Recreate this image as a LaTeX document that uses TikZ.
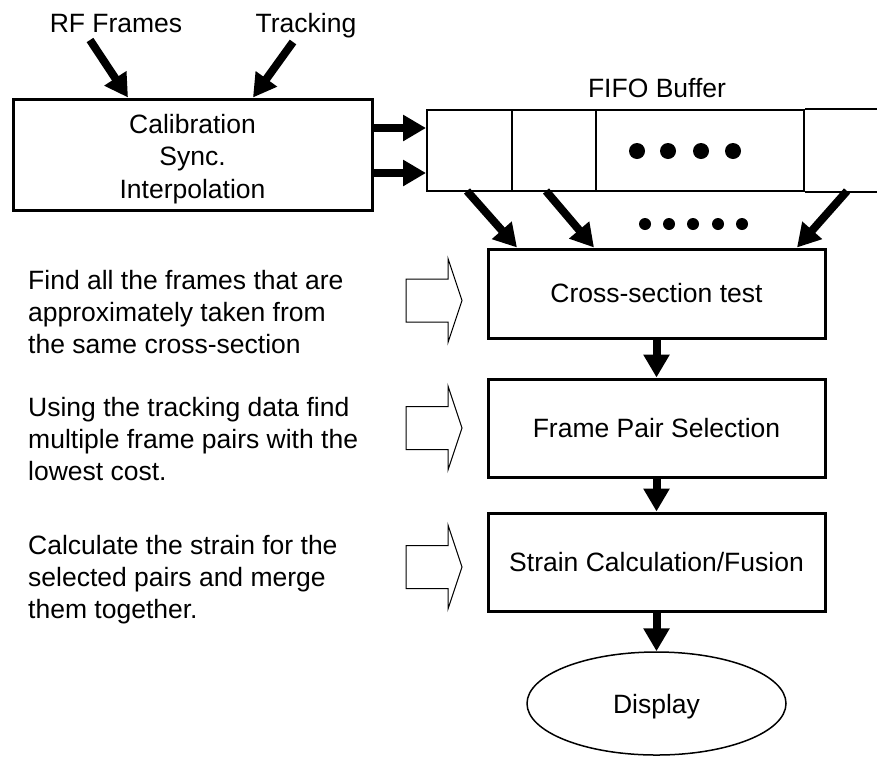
\documentclass[tikz,border=0pt]{standalone}
\usepackage{fontspec}
\setmainfont{Liberation Sans}
\usetikzlibrary{arrows.meta,shapes.geometric}
\tikzset{
  hollowarrow/.pic={\draw[line width=1pt] (-28,-21.5) -- (14,-21.5) -- (14,-42) -- (28,0) -- (14,42) -- (14,21.5) -- (-28,21.5) -- cycle;}
}
\begin{document}
\begin{tikzpicture}[x=1pt,y=-1pt,
  every node/.style={font=\fontsize{26.5}{32.5}\selectfont},
  procbox/.style={draw, line width=3pt, minimum width=337pt, minimum height=98pt, inner sep=0pt},
  fatarrow/.style={line width=8pt, -{Triangle[width=25pt,length=23pt]}},
  cellbox/.style={draw, line width=2pt, inner sep=0pt, minimum height=81pt},
  label/.style={anchor=base, inner sep=0pt},
  desc/.style={anchor=base west, align=left, inner sep=0pt, font=\fontsize{26.5}{32}\selectfont},
]
\useasboundingbox (0,0) rectangle (877,756);

% top block
\node[procbox, minimum width=359pt, minimum height=111pt] (calib) at (192.5,154.5) {};
\node[label, align=center] (calibtxt) at (192.5,198) {Calibration\\Sync.\\Interpolation};
\node[label] (rf) at (116,32) {RF Frames};
\node[label] (trk) at (306,32) {Tracking};
\coordinate (rfs) at (90,40);
\coordinate (trs) at (293,42);
\draw[fatarrow] (rfs) -- ([xshift=-64.5pt]calib.north);
\draw[fatarrow] (trs) -- ([xshift=60.5pt]calib.north);

% FIFO buffer
\node[label] (fifolbl) at (657,97) {FIFO Buffer};
\node[cellbox, minimum width=85pt] (cell1) at (469.5,150.5) {};
\node[cellbox, minimum width=84pt] (cell2) at (554,150.5) {};
\node[cellbox, minimum width=208pt] (cell3) at (700,150.5) {};
\draw[line width=2pt] (cell3.north east) -- ++(80,0);
\draw[line width=2pt] (cell3.south east) -- ++(80,0);
\foreach \x in {637,668,701,733} \fill (\x,151) circle (8pt);
\foreach \x in {645,669,693,718,742} \fill (\x,224) circle (6pt);

\coordinate (a1) at ([yshift=22.5pt]cell1.west);
\coordinate (a2) at ([yshift=-22.5pt]cell1.west);
\draw[fatarrow] (calib.east |- a1) -- (a1);
\draw[fatarrow] (calib.east |- a2) -- (a2);

% process boxes
\node[procbox, minimum height=89pt] (cross) at (656.5,293.5) {Cross-section test};
\node[procbox] (frame) at (656.5,428) {Frame Pair Selection};
\node[procbox] (strain) at (656.5,562) {Strain Calculation/Fusion};
\node[draw, ellipse, line width=1.5pt, minimum width=259pt, minimum height=103pt, inner sep=0pt, text depth=0pt] (disp) at (656.5,703.5) {Display};

\coordinate (d1) at (467,191);
\coordinate (d2) at (546,191);
\coordinate (d3) at (847,191);
\draw[fatarrow] (d1) -- ([xshift=-139.5pt]cross.north);
\draw[fatarrow] (d2) -- ([xshift=-62.5pt]cross.north);
\draw[fatarrow] (d3) -- ([xshift=140.5pt]cross.north);

\draw[fatarrow] (cross.south) -- (frame.north);
\draw[fatarrow] (frame.south) -- (strain.north);
\draw[fatarrow] (strain.south) -- (disp.north);

% hollow arrows
\pic (h1) at (434,300.5) {hollowarrow};
\pic (h2) at (434,428) {hollowarrow};
\pic (h3) at (434,567) {hollowarrow};

% descriptions (anchored at the baseline of the last line)
\node[desc] (t1) at (28,353) {Find all the frames that are\\approximately taken from\\the same cross-section};
\node[desc] (t2) at (28,480) {Using the tracking data find\\multiple frame pairs with the\\lowest cost.};
\node[desc] (t3) at (28,618) {Calculate the strain for the\\selected pairs and merge\\them together.};
\end{tikzpicture}
\end{document}
